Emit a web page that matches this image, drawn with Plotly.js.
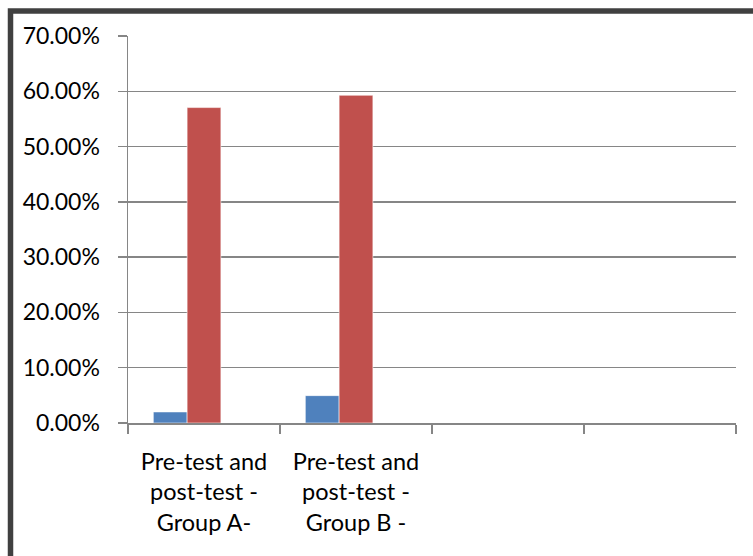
<!DOCTYPE html>
<html>
<head>
<meta charset="utf-8">
<script src="https://cdn.plot.ly/plotly-3.0.1.min.js"></script>
<style>
  html, body { margin: 0; padding: 0; background: #ffffff; }
  #chart { width: 753px; height: 556px; }
</style>
</head>
<body>
<div id="chart"></div>
<script>
// Data
var categories = [
  "Pre-test and<br>post-test -<br>Group A-",
  "Pre-test and<br>post-test -<br>Group B -",
  "",
  ""
];
var preTest  = [0.020, 0.0495];
var postTest = [0.5705, 0.5928];
var thirdSeries = [null, null];   // empty third series (reserves its slot in each group)
var yTickVals = [0, 0.1, 0.2, 0.3, 0.4, 0.5, 0.6, 0.7];

var catPos = categories.map(function (c, i) { return i; });
var barPos = catPos.slice(0, preTest.length);

var fontFam = "Lato, 'Noto Sans', sans-serif";
var barLine = { color: "rgba(255,255,255,0.55)", width: 1 };

var traces = [
  { type: "bar", name: "Pre-test",  x: barPos, y: preTest,  marker: { color: "#4F81BD", line: barLine } },
  { type: "bar", name: "Post-test", x: barPos, y: postTest, marker: { color: "#C0504D", line: barLine } },
  { type: "bar", name: "Series 3",  x: barPos, y: thirdSeries, marker: { color: "#9BBB59", line: barLine } }
];

var L = 128, R = 17, T = 36, B = 133;
var pw = 753 - L - R, ph = 556 - T - B;
function px2x(p) { return (p - L) / pw; }
function py2y(p) { return 1 - (p - T) / ph; }

var layout = {
  width: 753,
  height: 556,
  margin: { l: L, r: R, t: T, b: B },
  paper_bgcolor: "#ffffff",
  plot_bgcolor: "#ffffff",
  showlegend: false,
  barmode: "group",
  bargap: 0.3333,
  bargroupgap: 0,
  font: { family: fontFam, size: 23, color: "#000000" },
  xaxis: {
    type: "linear",
    range: [-0.5, categories.length - 0.5],
    tickmode: "array",
    tickvals: catPos,
    ticktext: categories,
    ticks: "",
    showgrid: false,
    zeroline: false,
    showline: true,
    linecolor: "#868686",
    linewidth: 1.5,
    ticklabelstandoff: 17,
    tickfont: { family: fontFam, size: 23.5, color: "#000000" },
    minor: {
      tickmode: "linear",
      tick0: -0.5,
      dtick: 1,
      ticks: "outside",
      ticklen: 9,
      tickwidth: 1.5,
      tickcolor: "#868686",
      showgrid: false
    },
    fixedrange: true
  },
  yaxis: {
    range: [0, 0.7],
    tickmode: "array",
    tickvals: yTickVals,
    tickformat: ".2%",
    ticks: "outside",
    ticklen: 9,
    tickwidth: 1.5,
    tickcolor: "#868686",
    showgrid: true,
    gridcolor: "#868686",
    gridwidth: 1.5,
    zeroline: false,
    showline: true,
    linecolor: "#868686",
    linewidth: 1.5,
    ticklabelstandoff: 13,
    tickfont: { family: fontFam, size: 23, color: "#000000" },
    fixedrange: true
  },
  shapes: [
    {
      type: "path",
      xref: "paper",
      yref: "paper",
      path: "M " + px2x(10.5) + "," + py2y(600) + " L " + px2x(10.5) + "," + py2y(11) + " L " + px2x(800) + "," + py2y(11),
      line: { color: "#404040", width: 5.5 },
      layer: "above"
    }
  ]
};

Plotly.newPlot("chart", traces, layout, { displayModeBar: false, staticPlot: true });
</script>
</body>
</html>
